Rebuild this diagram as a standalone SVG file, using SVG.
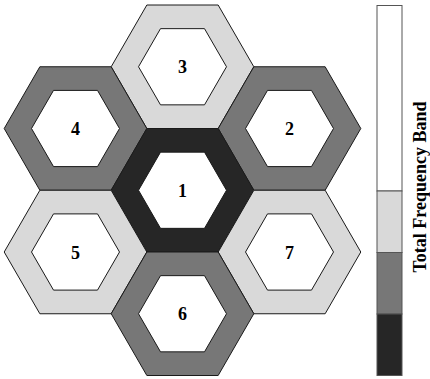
<svg xmlns="http://www.w3.org/2000/svg" xmlns:xlink="http://www.w3.org/1999/xlink" width="430" height="379" viewBox="0 0 430 379">
<style>
.hx{stroke:#1a1a1a;stroke-width:1}
.in{fill:#ffffff;stroke:#1a1a1a;stroke-width:1}
.light{fill:#d9d9d9}
.mid{fill:#777777}
.dark{fill:#262626}
.lbl{font-family:"Liberation Serif","Times New Roman",serif;font-weight:bold;font-size:18px;text-anchor:middle;fill:#000}
.bar{stroke:#555;stroke-width:1}
</style>
<defs>
<polygon id="outer" points="71.3,0 35.65,61.75 -35.65,61.75 -71.3,0 -35.65,-61.75 35.65,-61.75"/>
<polygon id="inner" points="44,0 22,38.1 -22,38.1 -44,0 -22,-38.1 22,-38.1"/>
</defs>
<g id="cell3" transform="translate(182.5,66.75)"><use xlink:href="#outer" class="hx light"/><use xlink:href="#inner" class="in"/><text class="lbl" x="0" y="6.5">3</text></g>
<g id="cell4" transform="translate(75.5,128.5)"><use xlink:href="#outer" class="hx mid"/><use xlink:href="#inner" class="in"/><text class="lbl" x="0" y="6.5">4</text></g>
<g id="cell2" transform="translate(289.5,128.5)"><use xlink:href="#outer" class="hx mid"/><use xlink:href="#inner" class="in"/><text class="lbl" x="0" y="6.5">2</text></g>
<g id="cell1" transform="translate(182.5,190.25)"><use xlink:href="#outer" class="hx dark"/><use xlink:href="#inner" class="in"/><text class="lbl" x="0" y="6.5">1</text></g>
<g id="cell5" transform="translate(75.5,252)"><use xlink:href="#outer" class="hx light"/><use xlink:href="#inner" class="in"/><text class="lbl" x="0" y="6.5">5</text></g>
<g id="cell7" transform="translate(289.5,252)"><use xlink:href="#outer" class="hx light"/><use xlink:href="#inner" class="in"/><text class="lbl" x="0" y="6.5">7</text></g>
<g id="cell6" transform="translate(182.5,313.75)"><use xlink:href="#outer" class="hx mid"/><use xlink:href="#inner" class="in"/><text class="lbl" x="0" y="6.5">6</text></g>
<g id="connectors"></g>
<g id="band">
<rect class="bar" x="377" y="5.5" width="25" height="185.5" fill="#ffffff"/>
<rect class="bar" x="377" y="191" width="25" height="61.5" fill="#d9d9d9"/>
<rect class="bar" x="377" y="252.5" width="25" height="61.5" fill="#777777"/>
<rect class="bar" x="377" y="314" width="25" height="61.5" fill="#262626"/>
<text transform="translate(426,187) rotate(-90)" font-family="Liberation Serif,'Times New Roman',serif" font-weight="bold" font-size="18" text-anchor="middle">Total Frequency Band</text>
</g>
</svg>
